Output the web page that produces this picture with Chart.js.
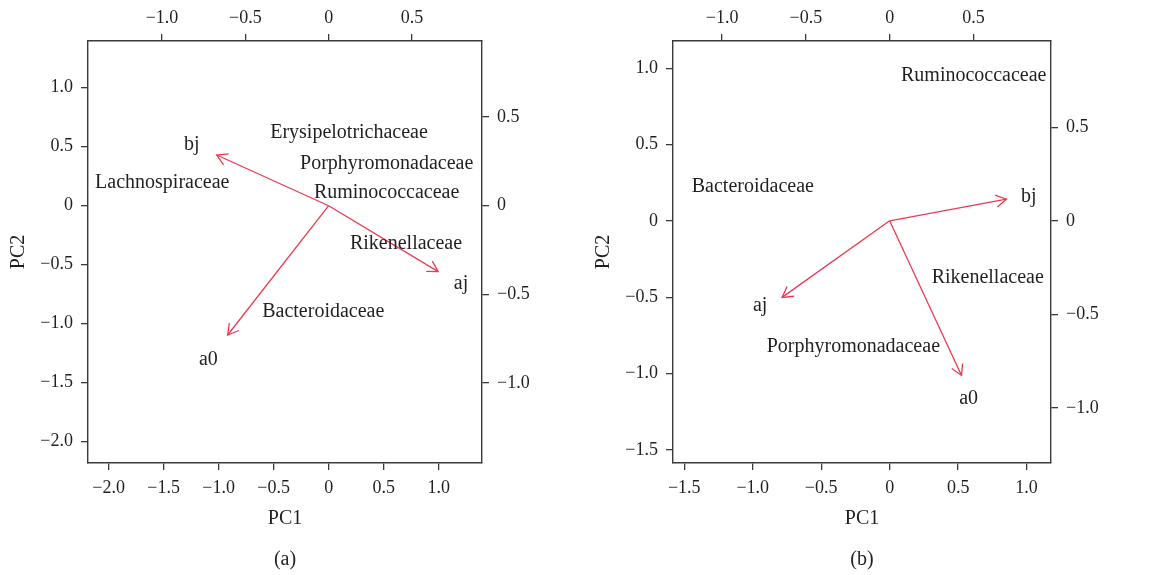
<!DOCTYPE html>
<html lang="en">
<head>
    <meta charset="UTF-8">
    <title>PCA biplots</title>
    <script src="https://cdn.jsdelivr.net/npm/chart.js@4.4.1/dist/chart.umd.min.js"></script>
    <style>
        html, body { margin: 0; padding: 0; background: #fff; }
        body { width: 1163px; height: 575px; position: relative; overflow: hidden; }
        canvas { position: absolute; top: 0; }
        #panel-a { left: 0; }
        #panel-b { left: 580px; }
    </style>
</head>
<body>
<canvas id="panel-a" width="560" height="575"></canvas>
<canvas id="panel-b" width="583" height="575"></canvas>
<script>
    // arrows (sample loadings) share the top/right axes
    const sampleNames = ['bj', 'aj', 'a0'];

    const arrowAX = [-0.672, 0.657, -0.606];
    const arrowAY = [0.286, -0.372, -0.729];
    const sampleLabelAX = [-0.822, 0.794, -0.722];
    const sampleLabelAY = [0.342, -0.438, -0.870];

    const arrowBX = [0.697, -0.642, 0.429];
    const arrowBY = [0.116, -0.409, -0.826];
    const sampleLabelBX = [0.830, -0.773, 0.471];
    const sampleLabelBY = [0.127, -0.454, -0.950];

    // family scores on the bottom/left axes
    const familiesA = ['Erysipelotrichaceae', 'Porphyromonadaceae', 'Ruminococcaceae', 'Lachnospiraceae', 'Rikenellaceae', 'Bacteroidaceae'];
    const familyAX = [0.185, 0.527, 0.527, -1.513, 0.703, -0.049];
    const familyAY = [0.619, 0.359, 0.110, 0.195, -0.319, -0.898];

    const familiesB = ['Ruminococcaceae', 'Bacteroidaceae', 'Rikenellaceae', 'Porphyromonadaceae'];
    const familyBX = [0.614, -0.999, 0.716, -0.265];
    const familyBY = [0.949, 0.224, -0.371, -0.823];

    // tick labels
    const ticksA_pc = [-2.0, -1.5, -1.0, -0.5, 0, 0.5, 1.0];
    const ticksB_pc = [-1.5, -1.0, -0.5, 0, 0.5, 1.0];
    const ticksLoad = [-1.0, -0.5, 0, 0.5];

    const TEXT = '#231f20';
    const AXIS = '#3a3a3a';
    const RED = '#ec3a52';
    const SERIF = "'Liberation Serif', 'Times New Roman', serif";

    function fmt(v) {
        if (v === 0) return '0';
        return (v < 0 ? '\u2212' : '') + Math.abs(v).toFixed(1);
    }

    function axis(position, min, max, vals, size, pad) {
        return {
            type: 'linear',
            position: position,
            min: min,
            max: max,
            afterBuildTicks: s => { s.ticks = vals.map(v => ({value: v})); },
            afterFit: s => {
                if (position === 'left' || position === 'right') s.width = size;
                else s.height = size;
            },
            grid: { drawOnChartArea: false, drawTicks: true, tickLength: 7, color: AXIS, lineWidth: 1.3 },
            border: { display: true, color: AXIS, width: 1.4 },
            ticks: {
                autoSkip: false,
                maxRotation: 0,
                padding: pad,
                color: TEXT,
                font: { family: SERIF, size: 18 },
                callback: v => fmt(v)
            },
            title: { display: false }
        };
    }

    const biplotText = {
        id: 'biplotText',
        afterDatasetsDraw(chart, args, o) {
            const c = chart.ctx;
            const s = chart.scales;
            const ca = chart.chartArea;
            c.save();
            // arrow heads
            c.strokeStyle = RED;
            c.lineWidth = 1.3;
            o.ax.forEach((vx, i) => {
                const x0 = s.x2.getPixelForValue(0), y0 = s.y2.getPixelForValue(0);
                const x1 = s.x2.getPixelForValue(vx), y1 = s.y2.getPixelForValue(o.ay[i]);
                const ang = Math.atan2(y1 - y0, x1 - x0);
                const len = 12, spread = Math.PI / 6;
                c.beginPath();
                c.moveTo(x1 - len * Math.cos(ang - spread), y1 - len * Math.sin(ang - spread));
                c.lineTo(x1, y1);
                c.lineTo(x1 - len * Math.cos(ang + spread), y1 - len * Math.sin(ang + spread));
                c.stroke();
            });
            c.fillStyle = TEXT;
            c.textAlign = 'center';
            c.textBaseline = 'middle';
            c.font = '20px ' + SERIF;
            // sample labels
            o.lx.forEach((vx, i) => {
                c.fillText(sampleNames[i], s.x2.getPixelForValue(vx), s.y2.getPixelForValue(o.ly[i]));
            });
            // family labels
            o.names.forEach((n, i) => {
                c.fillText(n, s.x.getPixelForValue(o.fx[i]), s.y.getPixelForValue(o.fy[i]));
            });
            // axis titles and panel tag
            const cx = (ca.left + ca.right) / 2;
            c.fillText('PC1', cx, ca.bottom + 56);
            c.fillText(o.tag, cx, ca.bottom + 97);
            c.save();
            c.translate(ca.left - 69, (ca.top + ca.bottom) / 2);
            c.rotate(-Math.PI / 2);
            c.fillText('PC2', 0, 0);
            c.restore();
            c.restore();
        }
    };

    function arrowSets(ax, ay) {
        return ax.map((vx, i) => ({
            label: sampleNames[i],
            data: [{x: 0, y: 0}, {x: vx, y: ay[i]}],
            xAxisID: 'x2',
            yAxisID: 'y2',
            showLine: true,
            borderColor: RED,
            borderWidth: 1.3,
            pointRadius: 0,
            fill: false
        }));
    }

    function makeChart(id, cfg) {
        return new Chart(document.getElementById(id), {
            type: 'scatter',
            data: { datasets: arrowSets(cfg.ax, cfg.ay) },
            options: {
                responsive: false,
                animation: false,
                events: [],
                layout: { padding: 0 },
                plugins: {
                    legend: { display: false },
                    tooltip: { enabled: false },
                    biplotText: cfg
                },
                scales: {
                    x: axis('bottom', cfg.xr[0], cfg.xr[1], cfg.pcTicks, cfg.bottom, 7),
                    y: axis('left', cfg.yr[0], cfg.yr[1], cfg.pcTicks, cfg.left, 8),
                    x2: axis('top', cfg.x2r[0], cfg.x2r[1], ticksLoad, 41, 5),
                    y2: axis('right', cfg.y2r[0], cfg.y2r[1], ticksLoad, cfg.right, 8)
                }
            },
            plugins: [biplotText]
        });
    }

    makeChart('panel-a', {
        tag: '(a)',
        ax: arrowAX, ay: arrowAY, lx: sampleLabelAX, ly: sampleLabelAY,
        names: familiesA, fx: familyAX, fy: familyAY,
        pcTicks: ticksA_pc,
        xr: [-2.188, 1.394], yr: [-2.18, 1.396],
        x2r: [-1.444, 0.92], y2r: [-1.451, 0.929],
        left: 88, right: 78, bottom: 112
    });

    makeChart('panel-b', {
        tag: '(b)',
        ax: arrowBX, ay: arrowBY, lx: sampleLabelBX, ly: sampleLabelBY,
        names: familiesB, fx: familyBX, fy: familyBY,
        pcTicks: ticksB_pc,
        xr: [-1.582, 1.178], yr: [-1.586, 1.178],
        x2r: [-1.293, 0.963], y2r: [-1.294, 0.961],
        left: 93, right: 112, bottom: 112
    });
</script>
</body>
</html>
